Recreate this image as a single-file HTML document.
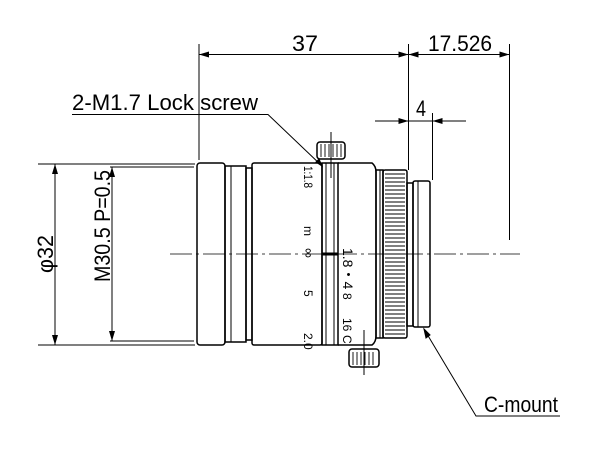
<!DOCTYPE html>
<html><head><style>html,body{margin:0;padding:0;background:#fff}svg{display:block}</style></head>
<body>
<svg width="601" height="457" viewBox="0 0 601 457" xmlns="http://www.w3.org/2000/svg" font-family="Liberation Sans, sans-serif">
<defs>
<marker id="a" viewBox="0 0 10 6" refX="10" refY="3" markerWidth="10" markerHeight="6" orient="auto-start-reverse" markerUnits="userSpaceOnUse"><path d="M0,0L10,3L0,6z" fill="#000"/></marker>
</defs>
<g stroke="#000" stroke-width="1" fill="none">
<line x1="199" y1="44" x2="199" y2="160"/>
<line x1="408.5" y1="44" x2="408.5" y2="170"/>
<line x1="509.5" y1="44" x2="509.5" y2="240"/>
<line x1="432.5" y1="113" x2="432.5" y2="180"/>
<line x1="199" y1="54.5" x2="408.5" y2="54.5" marker-start="url(#a)" marker-end="url(#a)"/>
<line x1="408.5" y1="54.5" x2="509.5" y2="54.5" marker-start="url(#a)" marker-end="url(#a)"/>
<line x1="375" y1="121" x2="408.5" y2="121" marker-end="url(#a)"/>
<line x1="466" y1="121" x2="432.5" y2="121" marker-end="url(#a)"/>
<line x1="408.5" y1="121" x2="432.5" y2="121"/>
<line x1="38" y1="164" x2="195" y2="164"/>
<line x1="38" y1="345" x2="195" y2="345"/>
<line x1="55" y1="164" x2="55" y2="345" marker-start="url(#a)" marker-end="url(#a)"/>
<line x1="110" y1="167" x2="194" y2="167"/>
<line x1="110" y1="341" x2="194" y2="341"/>
<line x1="112" y1="167" x2="112" y2="341" marker-start="url(#a)" marker-end="url(#a)"/>
<polyline points="72,114.5 268,114.5 322,166"/>
<polyline points="560,416 476,416 424,329"/>
<path d="M424,329 l2,9 l4,-3z" fill="#000"/>
<path d="M322,166 l-3,-7 l-3,3z" fill="#000"/>
<line x1="170" y1="254" x2="520" y2="254" stroke-dasharray="22,4,3,4" stroke-width="0.8"/>
<g stroke-width="1.5">
<rect x="197" y="163" width="28" height="182" rx="3"/>
<rect x="225" y="166" width="21" height="176"/>
<rect x="246" y="168" width="6" height="172"/>
<rect x="252" y="163" width="70" height="182" rx="2"/>
<rect x="322" y="163" width="16" height="182"/>
<path d="M338,163 H372 Q376,166 376,172 V336 Q376,342 372,345 H338"/>
<rect x="376" y="170" width="7" height="168"/>
<rect x="383" y="170" width="24" height="168" rx="2"/>
<rect x="407" y="183" width="6" height="143"/>
<rect x="413" y="181" width="17" height="146" rx="2"/>
<rect x="317" y="142" width="28" height="17" rx="3"/>
<rect x="349" y="349" width="30" height="18" rx="3"/>
</g>
<line x1="322" y1="254" x2="338" y2="254" stroke-width="3"/>
<line x1="326" y1="163" x2="326" y2="345"/>
<line x1="334" y1="163" x2="334" y2="345"/>
<line x1="231" y1="166" x2="231" y2="342"/>
<line x1="380" y1="170" x2="380" y2="338"/>
<line x1="418" y1="181" x2="418" y2="327"/>
<line x1="331" y1="132" x2="331" y2="178"/>
<line x1="364" y1="330" x2="364" y2="375"/>
</g>
<g stroke="#000" stroke-width="0.9">
<line x1="385" y1="174" x2="405" y2="174"/><line x1="385" y1="178" x2="405" y2="178"/><line x1="385" y1="182" x2="405" y2="182"/><line x1="385" y1="186" x2="405" y2="186"/><line x1="385" y1="190" x2="405" y2="190"/><line x1="385" y1="194" x2="405" y2="194"/><line x1="385" y1="198" x2="405" y2="198"/><line x1="385" y1="202" x2="405" y2="202"/><line x1="385" y1="206" x2="405" y2="206"/><line x1="385" y1="210" x2="405" y2="210"/><line x1="385" y1="214" x2="405" y2="214"/><line x1="385" y1="218" x2="405" y2="218"/><line x1="385" y1="222" x2="405" y2="222"/><line x1="385" y1="226" x2="405" y2="226"/><line x1="385" y1="230" x2="405" y2="230"/><line x1="385" y1="234" x2="405" y2="234"/><line x1="385" y1="238" x2="405" y2="238"/><line x1="385" y1="242" x2="405" y2="242"/><line x1="385" y1="246" x2="405" y2="246"/><line x1="385" y1="250" x2="405" y2="250"/><line x1="385" y1="254" x2="405" y2="254"/><line x1="385" y1="258" x2="405" y2="258"/><line x1="385" y1="262" x2="405" y2="262"/><line x1="385" y1="266" x2="405" y2="266"/><line x1="385" y1="270" x2="405" y2="270"/><line x1="385" y1="274" x2="405" y2="274"/><line x1="385" y1="278" x2="405" y2="278"/><line x1="385" y1="282" x2="405" y2="282"/><line x1="385" y1="286" x2="405" y2="286"/><line x1="385" y1="290" x2="405" y2="290"/><line x1="385" y1="294" x2="405" y2="294"/><line x1="385" y1="298" x2="405" y2="298"/><line x1="385" y1="302" x2="405" y2="302"/><line x1="385" y1="306" x2="405" y2="306"/><line x1="385" y1="310" x2="405" y2="310"/><line x1="385" y1="314" x2="405" y2="314"/><line x1="385" y1="318" x2="405" y2="318"/><line x1="385" y1="322" x2="405" y2="322"/><line x1="385" y1="326" x2="405" y2="326"/><line x1="385" y1="330" x2="405" y2="330"/><line x1="385" y1="334" x2="405" y2="334"/>
<line x1="321" y1="144" x2="321" y2="157"/><line x1="325" y1="144" x2="325" y2="157"/><line x1="329" y1="144" x2="329" y2="157"/><line x1="333" y1="144" x2="333" y2="157"/><line x1="337" y1="144" x2="337" y2="157"/><line x1="341" y1="144" x2="341" y2="157"/>
<line x1="353" y1="352" x2="353" y2="365"/><line x1="357" y1="352" x2="357" y2="365"/><line x1="361" y1="352" x2="361" y2="365"/><line x1="365" y1="352" x2="365" y2="365"/><line x1="369" y1="352" x2="369" y2="365"/><line x1="373" y1="352" x2="373" y2="365"/>
</g>
<g font-size="22" fill="#000">
<text x="292" y="51" textLength="26" lengthAdjust="spacingAndGlyphs">37</text>
<text x="428" y="51" textLength="64" lengthAdjust="spacingAndGlyphs">17.526</text>
<text x="416" y="116" textLength="10" lengthAdjust="spacingAndGlyphs">4</text>
<text x="72" y="110" textLength="186" lengthAdjust="spacingAndGlyphs">2-M1.7 Lock screw</text>
<text x="484" y="412" textLength="74" lengthAdjust="spacingAndGlyphs">C-mount</text>
<text transform="translate(53,273) rotate(-90)" textLength="38" lengthAdjust="spacingAndGlyphs">φ32</text>
<text transform="translate(110,282) rotate(-90)" textLength="112" lengthAdjust="spacingAndGlyphs">M30.5 P=0.5</text>
</g>
<g font-size="12" fill="#000">
<text transform="translate(304,166) rotate(90)" textLength="22" lengthAdjust="spacingAndGlyphs">1:1.8</text>
<text transform="translate(304,226) rotate(90)">m</text>
<text transform="translate(304,248) rotate(90)" font-size="14">∞</text>
<text transform="translate(304,290) rotate(90)">5</text>
<text transform="translate(304,333) rotate(90)">2.0</text>
<text transform="translate(343,248) rotate(90)" font-size="14">1.8・4</text>
<text transform="translate(343,293) rotate(90)">8</text>
<text transform="translate(343,318) rotate(90)">16</text>
<text transform="translate(343,335) rotate(90)">C</text>
</g>
</svg>
</body></html>
